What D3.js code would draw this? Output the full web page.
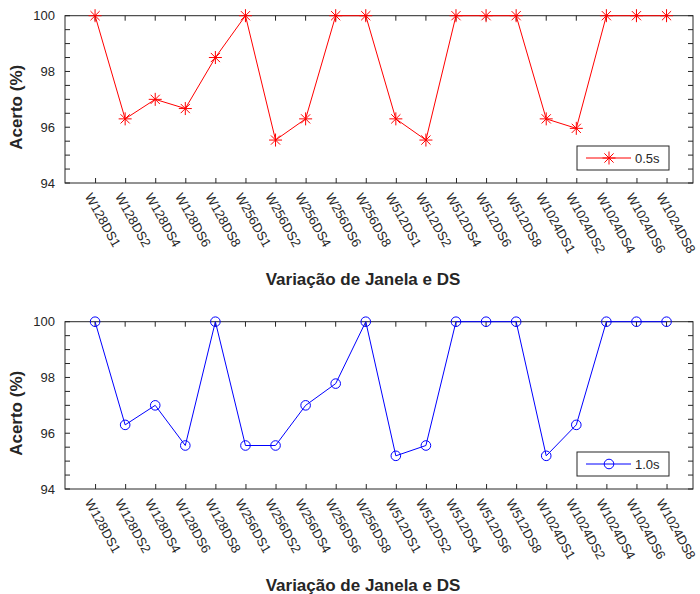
<!DOCTYPE html>
<html>
<head>
<meta charset="utf-8">
<script src="https://cdn.jsdelivr.net/npm/d3@7"></script>
<style>
body { margin: 0; background: #fff; }
svg text { font-family: "Liberation Sans", Arial, Helvetica, sans-serif; fill: #262626; }
</style>
</head>
<body>
<svg id="chart" width="700" height="594"></svg>
<script>
// Window / downsampling combinations
var categories = [
  'W128DS1', 'W128DS2', 'W128DS4', 'W128DS6', 'W128DS8',
  'W256DS1', 'W256DS2', 'W256DS4', 'W256DS6', 'W256DS8',
  'W512DS1', 'W512DS2', 'W512DS4', 'W512DS6', 'W512DS8',
  'W1024DS1', 'W1024DS2', 'W1024DS4', 'W1024DS6', 'W1024DS8'
];

// Accuracy (%) for 0.5s windows
var acerto05 = [
  100, 96.3, 97.0, 96.67, 98.5,
  100, 95.54, 96.3, 100, 100,
  96.3, 95.54, 100, 100, 100,
  96.3, 95.96, 100, 100, 100
];

// Accuracy (%) for 1.0s windows
var acerto10 = [
  100, 96.3, 97.0, 95.56, 100,
  95.56, 95.56, 97.0, 97.78, 100,
  95.19, 95.56, 100, 100, 100,
  95.19, 96.3, 100, 100, 100
];

var yTicks = [94, 96, 98, 100];
var yDomain = [94, 100];
var xLabel = 'Variação de Janela e DS';
var yLabel = 'Acerto (%)';

var svg = d3.select('#chart');
var axisColor = '#262626';
var left = 65;
var right = 693;

// x positions: category i sits at i + 1
var x = d3.scaleLinear().domain([0, 20.88]).range([left, right]);

// Asterisk marker path
function asterisk(r) {
  var d = r * 0.7071;
  return 'M' + (-r) + ',0L' + r + ',0' +
    'M0,' + (-r) + 'L0,' + r +
    'M' + (-d) + ',' + (-d) + 'L' + d + ',' + d +
    'M' + (-d) + ',' + d + 'L' + d + ',' + (-d);
}

function drawMarker(g, type, color) {
  if (type === 'star') {
    g.append('path')
      .attr('d', asterisk(6.5))
      .attr('stroke', color)
      .attr('stroke-width', 1)
      .attr('fill', 'none');
  } else {
    g.append('circle')
      .attr('r', 4.8)
      .attr('stroke', color)
      .attr('stroke-width', 1)
      .attr('fill', 'none');
  }
}

// Draw one panel
function drawPanel(top, bottom, values, color, marker, legendText) {
  var y = d3.scaleLinear().domain(yDomain).range([bottom, top]);
  var g = svg.append('g');

  // Minor y ticks (left and right, inward)
  var minor = y.ticks(12);
  g.selectAll('.minor-l').data(minor).enter().append('line')
    .attr('x1', left).attr('x2', left + 5)
    .attr('y1', function (d) { return y(d); })
    .attr('y2', function (d) { return y(d); })
    .attr('stroke', axisColor);
  g.selectAll('.minor-r').data(minor).enter().append('line')
    .attr('x1', right).attr('x2', right - 5)
    .attr('y1', function (d) { return y(d); })
    .attr('y2', function (d) { return y(d); })
    .attr('stroke', axisColor);

  // Top x ticks
  g.selectAll('.xtop').data(categories).enter().append('line')
    .attr('x1', function (d, i) { return x(i + 1); })
    .attr('x2', function (d, i) { return x(i + 1); })
    .attr('y1', top).attr('y2', top + 5)
    .attr('stroke', axisColor);

  // Left axis
  var yAxis = d3.axisLeft(y)
    .tickValues(yTicks)
    .tickFormat(d3.format('d'))
    .tickSize(0)
    .tickPadding(10);
  var ya = g.append('g')
    .attr('transform', 'translate(' + left + ',0)')
    .call(yAxis);
  ya.select('.domain').remove();
  ya.selectAll('text').style('font-size', '13px').attr('fill', axisColor);

  // Bottom axis with rotated labels
  var xAxis = d3.axisBottom(x)
    .tickValues(d3.range(1, categories.length + 1))
    .tickSize(-5)
    .tickFormat(function (d) { return categories[d - 1]; });
  var xa = g.append('g')
    .attr('transform', 'translate(0,' + bottom + ')')
    .call(xAxis);
  xa.select('.domain').remove();
  xa.selectAll('line').attr('stroke', axisColor);
  xa.selectAll('text')
    .style('font-size', '13px')
    .attr('fill', axisColor)
    .attr('x', 0).attr('y', 0).attr('dy', '0.35em')
    .attr('text-anchor', 'start')
    .attr('transform', 'translate(-7,11) rotate(61)');

  // Box
  g.append('rect')
    .attr('x', left).attr('y', top)
    .attr('width', right - left).attr('height', bottom - top)
    .attr('fill', 'none')
    .attr('stroke', axisColor)
    .attr('stroke-width', 1);

  // Series line
  var line = d3.line()
    .x(function (d, i) { return x(i + 1); })
    .y(function (d) { return y(d); });
  g.append('path')
    .datum(values)
    .attr('d', line)
    .attr('fill', 'none')
    .attr('stroke', color)
    .attr('stroke-width', 1);

  // Markers
  values.forEach(function (v, i) {
    var m = g.append('g').attr('transform', 'translate(' + x(i + 1) + ',' + y(v) + ')');
    drawMarker(m, marker, color);
  });

  // Legend
  var lx = 577, ly = bottom - 37, lw = 92, lh = 24;
  var lg = g.append('g');
  lg.append('rect')
    .attr('x', lx).attr('y', ly).attr('width', lw).attr('height', lh)
    .attr('fill', '#fff').attr('stroke', axisColor);
  lg.append('line')
    .attr('x1', lx + 9).attr('x2', lx + 54)
    .attr('y1', ly + lh / 2).attr('y2', ly + lh / 2)
    .attr('stroke', color).attr('stroke-width', 1);
  var lm = lg.append('g').attr('transform', 'translate(' + (lx + 32) + ',' + (ly + lh / 2) + ')');
  drawMarker(lm, marker, color);
  lg.append('text')
    .attr('x', lx + 58).attr('y', ly + lh / 2).attr('dy', '0.35em')
    .style('font-size', '13px')
    .text(legendText);

  // Axis labels
  g.append('text')
    .attr('x', 363).attr('y', bottom + 102)
    .attr('text-anchor', 'middle')
    .style('font-size', '17px').style('font-weight', 'bold')
    .text(xLabel);
  g.append('text')
    .attr('transform', 'translate(21.5,' + ((top + bottom) / 2 + 8) + ') rotate(-90)')
    .attr('text-anchor', 'middle')
    .style('font-size', '17px').style('font-weight', 'bold')
    .text(yLabel);
}

drawPanel(15.7, 183, acerto05, '#ff0000', 'star', '0.5s');
drawPanel(321.7, 489, acerto10, '#0000ff', 'circle', '1.0s');
</script>
</body>
</html>
